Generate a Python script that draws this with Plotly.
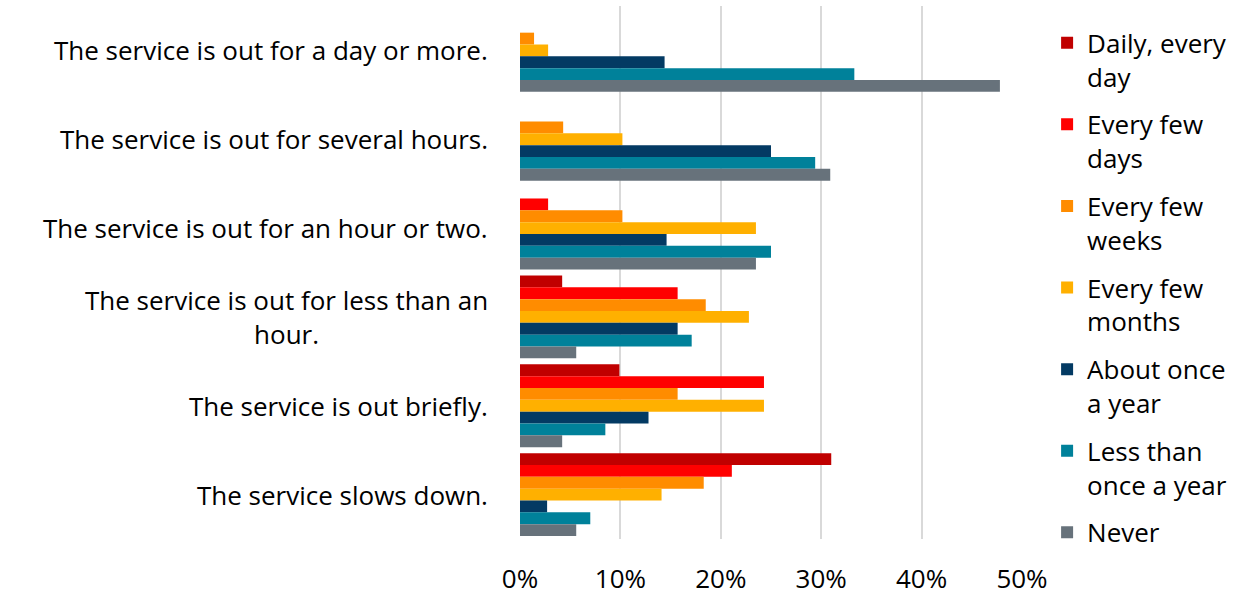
import plotly.graph_objects as go

categories = [
    "The service is out for a day or more.",
    "The service is out for several hours.",
    "The service is out for an hour or two.",
    "The service is out for less than an<br>hour.",
    "The service is out briefly.",
    "The service slows down.",
]

series_names = [
    "Daily, every<br>day",
    "Every few<br>days",
    "Every few<br>weeks",
    "Every few<br>months",
    "About once<br>a year",
    "Less than<br>once a year",
    "Never",
]

daily = [0.0, 0.0, 0.0, 4.2, 9.9, 31.0]
every_few_days = [0.0, 0.0, 2.8, 15.7, 24.3, 21.1]
every_few_weeks = [1.4, 4.3, 10.2, 18.5, 15.7, 18.3]
every_few_months = [2.8, 10.2, 23.5, 22.8, 24.3, 14.1]
once_a_year = [14.4, 25.0, 14.6, 15.7, 12.8, 2.7]
less_than_yearly = [33.3, 29.4, 25.0, 17.1, 8.5, 7.0]
never = [47.8, 30.9, 23.5, 5.6, 4.2, 5.6]

colors = ["#C00000", "#FF0000", "#FF8C00", "#FFB000", "#033A63", "#00819A", "#67727B"]

values = [daily, every_few_days, every_few_weeks, every_few_months,
          once_a_year, less_than_yearly, never]

FONT = "Open Sans"
FS = 26

fig = go.Figure()
for i, (name, vals, col) in enumerate(zip(series_names, values, colors)):
    fig.add_trace(go.Bar(
        y=categories,
        x=[v / 100 for v in vals],
        name=name,
        orientation="h",
        marker=dict(color=col, line=dict(width=0)),
        legendgroup=f"g{i}",
    ))

for c in categories:
    fig.add_annotation(
        x=0, xref="paper", xanchor="right", xshift=-30,
        y=c, yref="y", yanchor="middle",
        text=c, showarrow=False, align="center",
        font=dict(family=FONT, size=FS, color="#000000"),
    )

fig.update_layout(
    width=1250, height=599,
    margin=dict(l=520, r=228, t=6, b=60, autoexpand=False),
    barmode="group",
    bargap=0.067,
    bargroupgap=0,
    paper_bgcolor="white",
    plot_bgcolor="white",
    font=dict(family=FONT, size=FS, color="#000000"),
    legend=dict(
        x=1.05, xanchor="left",
        y=0.975, yanchor="top",
        traceorder="grouped",
        tracegroupgap=11,
        valign="top",
        maxheight=599,
        font=dict(family=FONT, size=FS, color="#000000"),
        bgcolor="rgba(0,0,0,0)",
    ),
    xaxis=dict(
        range=[0, 0.5],
        tickvals=[0, 0.1, 0.2, 0.3, 0.4, 0.5],
        tickformat=".0%",
        showgrid=True,
        gridcolor="#D9D9D9",
        gridwidth=1.5,
        zeroline=False,
        showline=False,
        ticks="",
        ticklabelstandoff=22,
        tickfont=dict(family=FONT, size=FS, color="#000000"),
    ),
    yaxis=dict(
        autorange="reversed",
        showticklabels=False,
        showgrid=False,
        zeroline=False,
        showline=False,
        ticks="",
    ),
)

fig.write_html("out.html")
